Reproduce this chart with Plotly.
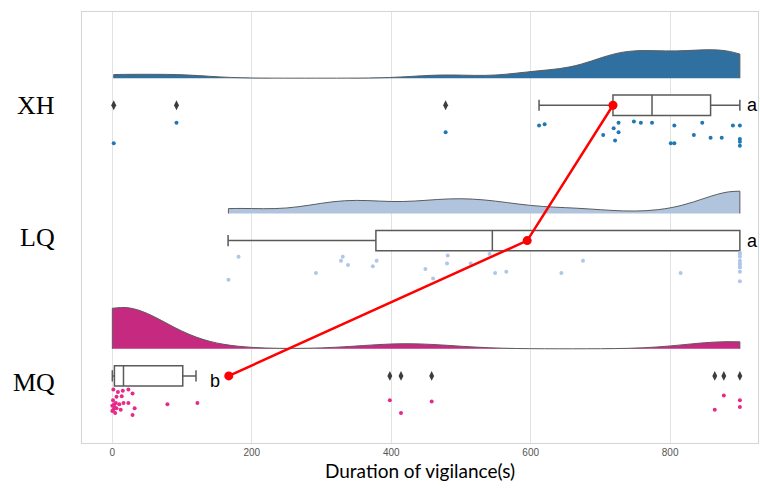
import plotly.graph_objects as go

# ---------------- data ----------------
categories = ["XH", "LQ", "MQ"]

xh_values = [2, 92, 478, 612, 620, 704, 719, 721, 726, 726, 748, 758, 774, 801, 806, 806,
             834, 846, 858, 874, 890, 900, 900, 900, 900]
xh_jitter = [0.28, 0.13, 0.20, 0.15, 0.14, 0.22, 0.17, 0.26, 0.13, 0.20, 0.12, 0.13, 0.13, 0.28, 0.28, 0.15,
             0.22, 0.13, 0.24, 0.24, 0.15, 0.15, 0.25, 0.27, 0.30]

lq_values = [166.5, 181, 292, 328, 330.5, 338, 373.6, 379, 449, 460, 480, 481, 514, 541, 549, 565,
             644, 675, 815, 900, 900, 900, 900, 900, 900, 900, 900, 900]
lq_jitter = [0.29, 0.12, 0.24, 0.15, 0.12, 0.18, 0.19, 0.15, 0.21, 0.28, 0.17, 0.11, 0.17, 0.10, 0.24, 0.23,
             0.24, 0.15, 0.24, 0.09, 0.10, 0.12, 0.15, 0.17, 0.18, 0.20, 0.23, 0.30]

mq_values = [1.5, 15, 23, 29, 6, 13.5, 5, 10, 2.5, 16, 23, 1.5, 6, 32, 4, 29,
             0, 0, 1, 3, 8, 12,
             79, 122, 398, 414, 458, 864, 877, 900, 900]
mq_jitter = [0.10, 0.11, 0.10, 0.13, 0.155, 0.15, 0.20, 0.21, 0.21, 0.20, 0.20, 0.25, 0.24, 0.24, 0.275, 0.29,
             0.22, 0.26, 0.18, 0.23, 0.12, 0.25,
             0.21, 0.20, 0.18, 0.275, 0.19, 0.25, 0.145, 0.18, 0.23]

box_lower = [612, 166, 0]
box_q1 = [718, 378, 3]
box_median = [774, 545, 16]
box_q3 = [858, 900, 101]
box_upper = [900, 900, 120]

xh_outliers = [2, 92, 478]
lq_outliers = []
mq_outliers = [398, 414, 458, 864, 877, 900]

means = [718, 595, 167]
letters = ["a", "a", "b"]

x_ticks = [0, 200, 400, 600, 800]
x_title = "Duration of vigilance(s)"

# ---------------- styling ----------------
values = [xh_values, lq_values, mq_values]
jitters = [xh_jitter, lq_jitter, mq_jitter]
outliers = [xh_outliers, lq_outliers, mq_outliers]
violin_fill = ["#2f70a0", "#b0c4de", "#c52a80"]
point_color = ["#1f77b4", "#aec7e8", "#e7298a"]
violin_width = [0.42, 0.33, 0.61]
bandwidth = [46, 51, 61]
n = len(categories)
pos = [n - 1 - i for i in range(n)]

fig = go.Figure()

for i in range(n):
    fig.add_trace(go.Violin(
        x=values[i], y0=pos[i] + 0.2, orientation="h", side="positive",
        spanmode="hard", bandwidth=bandwidth[i], scalemode="width", width=violin_width[i],
        points=False, box_visible=False, meanline_visible=False,
        fillcolor=violin_fill[i], line=dict(color="#5c5c5c", width=1),
        opacity=1, hoverinfo="skip", showlegend=False,
    ))

for i in range(n):
    fig.add_trace(go.Box(
        y=[pos[i]], q1=[box_q1[i]], median=[box_median[i]], q3=[box_q3[i]],
        lowerfence=[box_lower[i]], upperfence=[box_upper[i]],
        orientation="h", width=0.15, whiskerwidth=0.55, boxpoints=False,
        fillcolor="white", line=dict(color="#5a5a5a", width=1.5),
        showlegend=False,
    ))

for i in range(n):
    fig.add_trace(go.Scatter(
        x=values[i], y=[pos[i] - j for j in jitters[i]], mode="markers",
        marker=dict(color=point_color[i], size=4, line=dict(width=0)),
        showlegend=False,
    ))
    if outliers[i]:
        fig.add_trace(go.Scatter(
            x=outliers[i], y=[pos[i]] * len(outliers[i]), mode="markers",
            marker=dict(color="#3d3d3d", size=7, symbol="diamond-tall", line=dict(width=0)),
            showlegend=False,
        ))

fig.add_trace(go.Scatter(
    x=means, y=pos, mode="lines+markers",
    line=dict(color="#ff0000", width=2.5),
    marker=dict(color="#ff0000", size=9),
    showlegend=False,
))

letter_x = [908, 908, 157]
letter_anchor = ["left", "left", "right"]
letter_shift = [0, 0, -5]
for i in range(n):
    fig.add_annotation(x=letter_x[i], y=pos[i], text=letters[i], showarrow=False,
                       xanchor=letter_anchor[i], yshift=letter_shift[i],
                       font=dict(family="Liberation Sans", size=18, color="black"))

cat_shift = [0, 3, -7]
for i in range(n):
    fig.add_annotation(x=-0.037, xref="paper", y=pos[i], yref="y", text=categories[i],
                       showarrow=False, xanchor="right", yshift=cat_shift[i],
                       font=dict(family="Liberation Serif", size=26, color="black"))

fig.update_layout(
    width=760, height=490,
    margin=dict(l=82, r=2, t=12, b=47),
    plot_bgcolor="white", paper_bgcolor="white",
    violinmode="overlay", boxmode="overlay",
    xaxis=dict(range=[-43.5, 926], tickvals=x_ticks, showgrid=True, gridcolor="#e3e3e3",
               gridwidth=1, zeroline=False, showline=True, linecolor="#d4d4d4", mirror=True,
               ticks="", tickfont=dict(family="Liberation Sans", size=10, color="#555555"),
               title=dict(text=x_title, font=dict(family="Lato", size=19, color="black"), standoff=7)),
    yaxis=dict(range=[-0.496, 2.689], type="linear", showticklabels=False, showgrid=False,
               zeroline=False, showline=True, linecolor="#d4d4d4", mirror=True, ticks=""),
)

fig.write_html("out.html")
